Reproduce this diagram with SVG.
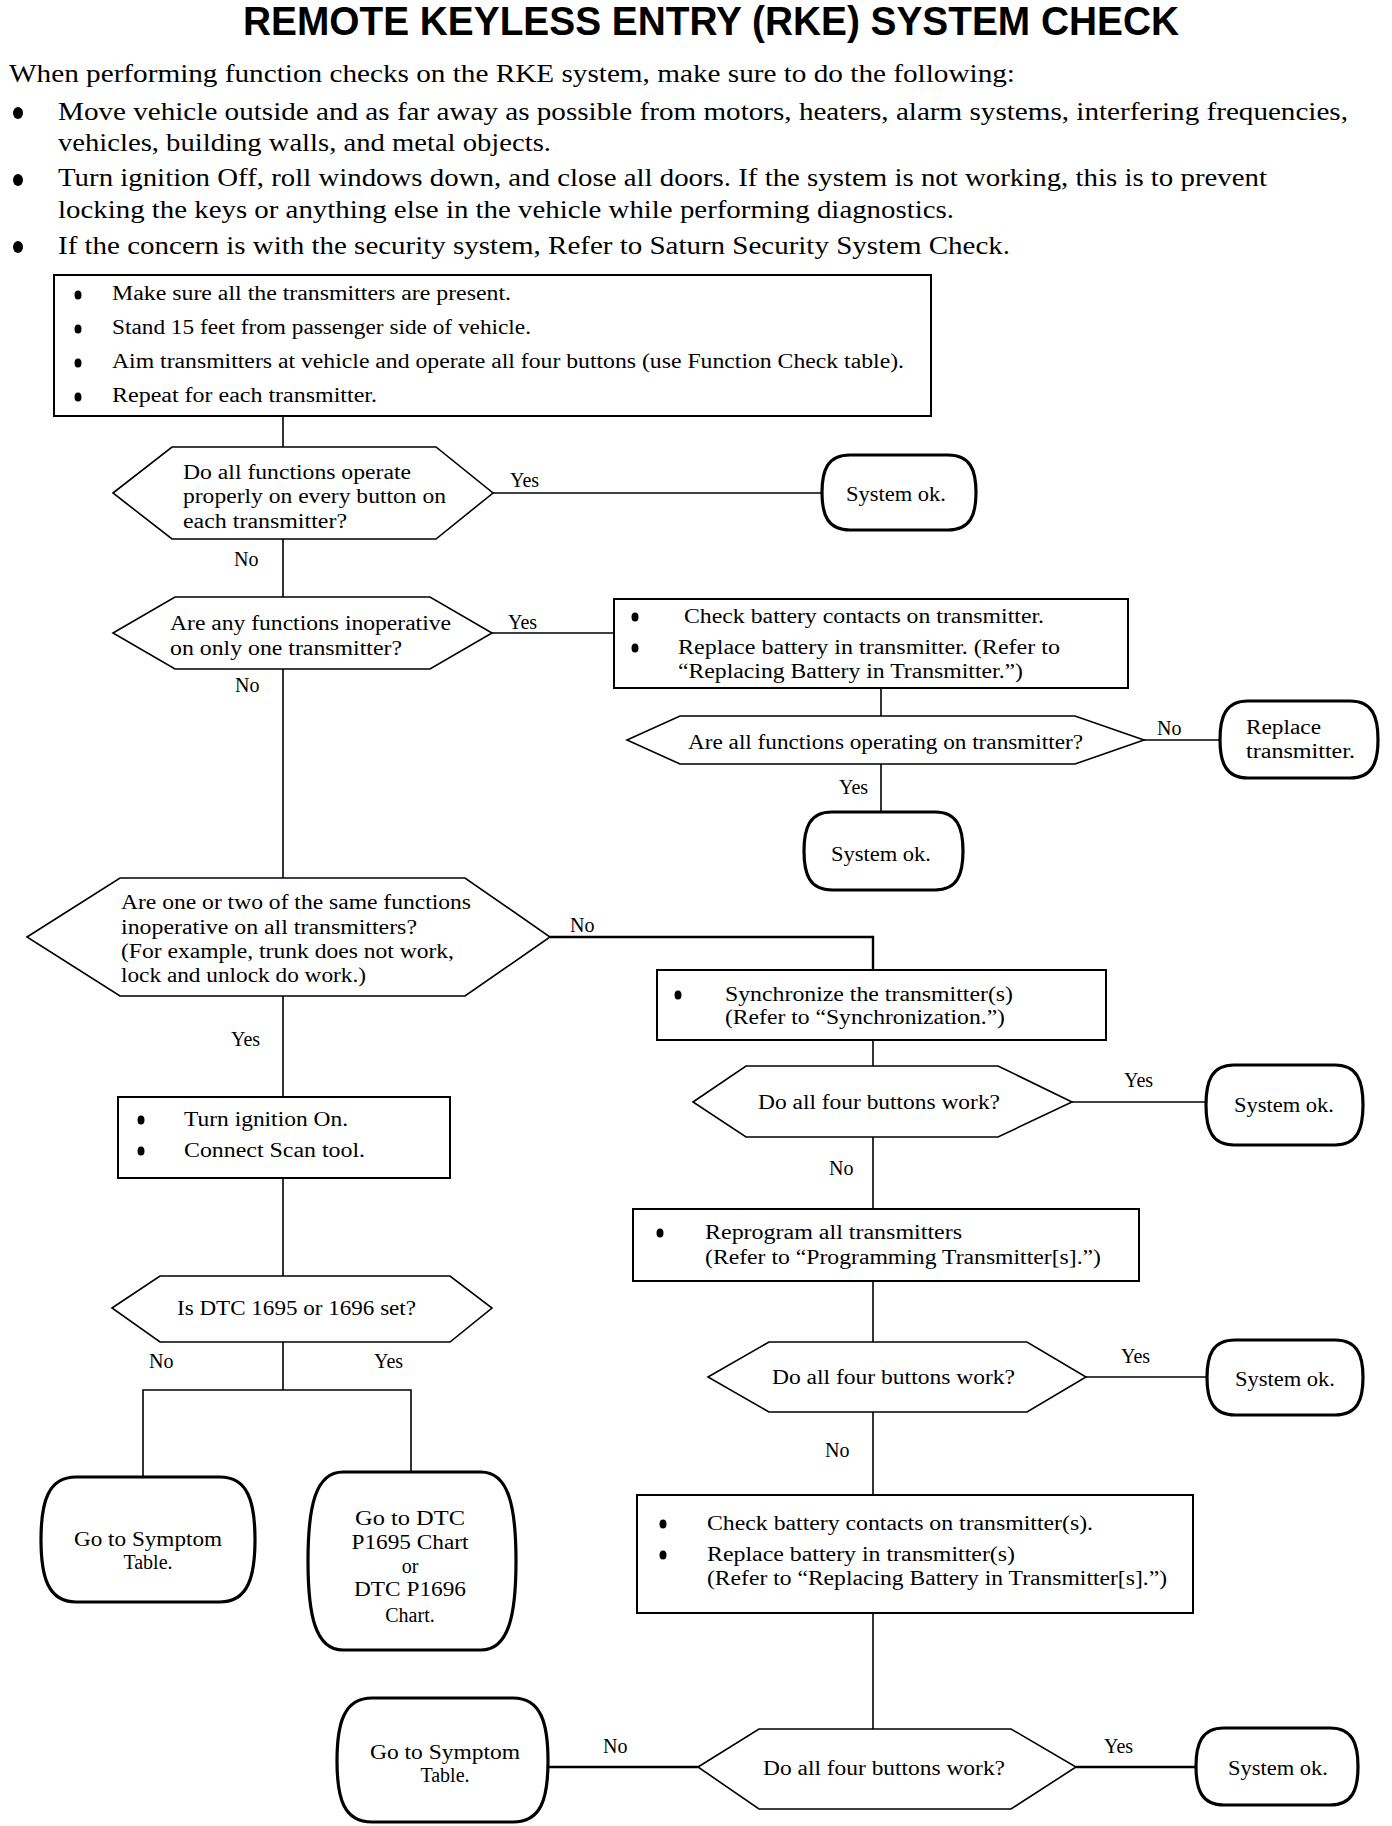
<svg xmlns="http://www.w3.org/2000/svg" width="1392" height="1826" viewBox="0 0 1392 1826">
<style>
text{font-family:"Liberation Serif","Times New Roman",serif;font-size:20px;fill:#000}
.title{font-family:"Liberation Sans",Arial,sans-serif;font-weight:bold;font-size:40px}
.intro{font-size:25px}
.box{fill:#fff;stroke:#000;stroke-width:2}
.dia{fill:#fff;stroke:#000;stroke-width:1.6}
.term{fill:#fff;stroke:#000;stroke-width:3.2}
.con{fill:none;stroke:#000;stroke-width:1.6}
.bul{fill:#000}
.mid{text-anchor:middle}
</style>
<rect width="1392" height="1826" fill="#fff"/>
<g id="header">
<text class="title" x="243" y="35" textLength="936" lengthAdjust="spacingAndGlyphs">REMOTE KEYLESS ENTRY (RKE) SYSTEM CHECK</text>
<text class="intro" x="9" y="82" textLength="1006" lengthAdjust="spacingAndGlyphs">When performing function checks on the RKE system, make sure to do the following:</text>
<ellipse class="bul" cx="18" cy="113" rx="5" ry="6"/>
<text class="intro" x="58" y="120" textLength="1290" lengthAdjust="spacingAndGlyphs">Move vehicle outside and as far away as possible from motors, heaters, alarm systems, interfering frequencies,</text>
<text class="intro" x="58" y="151" textLength="493" lengthAdjust="spacingAndGlyphs">vehicles, building walls, and metal objects.</text>
<ellipse class="bul" cx="18" cy="180" rx="5" ry="6"/>
<text class="intro" x="58" y="186" textLength="1209" lengthAdjust="spacingAndGlyphs">Turn ignition Off, roll windows down, and close all doors. If the system is not working, this is to prevent</text>
<text class="intro" x="58" y="218" textLength="896" lengthAdjust="spacingAndGlyphs">locking the keys or anything else in the vehicle while performing diagnostics.</text>
<ellipse class="bul" cx="18" cy="247" rx="5" ry="6"/>
<text class="intro" x="58" y="254" textLength="952" lengthAdjust="spacingAndGlyphs">If the concern is with the security system, Refer to Saturn Security System Check.</text>
</g>
<g id="connectors">
<path class="con" d="M283,416 V447"/>
<path class="con" d="M493,493 H822"/>
<path class="con" d="M283,539 V597"/>
<path class="con" d="M492,633 H614" stroke-width="3"/>
<path class="con" d="M881,688 V716"/>
<path class="con" d="M1144,740 H1220"/>
<path class="con" d="M881,764 V812"/>
<path class="con" d="M283,669 V878"/>
<path class="con" d="M550,937 H873 V970" style="stroke-width:2.4"/>
<path class="con" d="M873,1040 V1066"/>
<path class="con" d="M1072,1102 H1206"/>
<path class="con" d="M873,1137 V1209"/>
<path class="con" d="M873,1281 V1342"/>
<path class="con" d="M1086,1377 H1207"/>
<path class="con" d="M873,1412 V1495"/>
<path class="con" d="M873,1613 V1729"/>
<path class="con" d="M1076,1767 H1196" style="stroke-width:2.4"/>
<path class="con" d="M698,1767 H548" style="stroke-width:2.4"/>
<path class="con" d="M283,996 V1097"/>
<path class="con" d="M283,1178 V1276"/>
<path class="con" d="M283,1342 V1390 M143,1477 V1390 H411 V1472"/>
</g>
<g id="labels">
<text x="510" y="487">Yes</text>
<text x="234" y="566">No</text>
<text x="508" y="629">Yes</text>
<text x="235" y="692">No</text>
<text x="1157" y="735">No</text>
<text x="839" y="794">Yes</text>
<text x="570" y="932">No</text>
<text x="1124" y="1087">Yes</text>
<text x="829" y="1175">No</text>
<text x="1121" y="1363">Yes</text>
<text x="825" y="1457">No</text>
<text x="1104" y="1753">Yes</text>
<text x="603" y="1753">No</text>
<text x="231" y="1046">Yes</text>
<text x="149" y="1368">No</text>
<text x="374" y="1368">Yes</text>
</g>
<g id="box1">
<rect class="box" x="54" y="275" width="877" height="141"/>
<ellipse class="bul" cx="78" cy="295" rx="3.5" ry="4.5"/>
<text x="112" y="300" textLength="399" lengthAdjust="spacingAndGlyphs">Make sure all the transmitters are present.</text>
<ellipse class="bul" cx="78" cy="329" rx="3.5" ry="4.5"/>
<text x="112" y="334" textLength="419" lengthAdjust="spacingAndGlyphs">Stand 15 feet from passenger side of vehicle.</text>
<ellipse class="bul" cx="78" cy="363" rx="3.5" ry="4.5"/>
<text x="112" y="368" textLength="792" lengthAdjust="spacingAndGlyphs">Aim transmitters at vehicle and operate all four buttons (use Function Check table).</text>
<ellipse class="bul" cx="78" cy="397" rx="3.5" ry="4.5"/>
<text x="112" y="402" textLength="265" lengthAdjust="spacingAndGlyphs">Repeat for each transmitter.</text>
</g>
<g id="d1">
<polygon class="dia" points="113,493 172,447 436,447 493,493 436,539 172,539"/>
<text x="183" y="479" textLength="228" lengthAdjust="spacingAndGlyphs">Do all functions operate</text>
<text x="183" y="503" textLength="263" lengthAdjust="spacingAndGlyphs">properly on every button on</text>
<text x="183" y="528" textLength="164" lengthAdjust="spacingAndGlyphs">each transmitter?</text>
</g>
<g id="t1">
<path class="term" d="M850,455 H948 C970.4,455 976,470 976,492.5 C976,515 970.4,530 948,530 H850 C827.6,530 822,515 822,492.5 C822,470 827.6,455 850,455 Z"/>
<text class="mid" x="896" y="501" textLength="100" lengthAdjust="spacingAndGlyphs">System ok.</text>
</g>
<g id="d2">
<polygon class="dia" points="113,633 175,597 430,597 492,633 430,669 175,669"/>
<text x="170" y="630" textLength="281" lengthAdjust="spacingAndGlyphs">Are any functions inoperative</text>
<text x="170" y="655" textLength="232" lengthAdjust="spacingAndGlyphs">on only one transmitter?</text>
</g>
<g id="box2">
<rect class="box" x="614" y="599" width="514" height="89"/>
<ellipse class="bul" cx="635" cy="617" rx="3.5" ry="4.5"/>
<text x="684" y="623" textLength="360" lengthAdjust="spacingAndGlyphs">Check battery contacts on transmitter.</text>
<ellipse class="bul" cx="635" cy="648" rx="3.5" ry="4.5"/>
<text x="678" y="654" textLength="382" lengthAdjust="spacingAndGlyphs">Replace battery in transmitter. (Refer to</text>
<text x="678" y="678" textLength="345" lengthAdjust="spacingAndGlyphs">“Replacing Battery in Transmitter.”)</text>
</g>
<g id="d3">
<polygon class="dia" points="627,740 680,716 1075,716 1144,740 1075,764 680,764"/>
<text x="688" y="749" textLength="395" lengthAdjust="spacingAndGlyphs">Are all functions operating on transmitter?</text>
</g>
<g id="t2">
<path class="term" d="M1248,701 H1350 C1372.4,701 1378,716.4 1378,739.5 C1378,762.6 1372.4,778 1350,778 H1248 C1225.6,778 1220,762.6 1220,739.5 C1220,716.4 1225.6,701 1248,701 Z"/>
<text x="1246" y="734" textLength="75" lengthAdjust="spacingAndGlyphs">Replace</text>
<text x="1246" y="758" textLength="109" lengthAdjust="spacingAndGlyphs">transmitter.</text>
</g>
<g id="t3">
<path class="term" d="M832,812 H935 C957.4,812 963,827.6 963,851 C963,874.4 957.4,890 935,890 H832 C809.6,890 804,874.4 804,851 C804,827.6 809.6,812 832,812 Z"/>
<text class="mid" x="881" y="861" textLength="100" lengthAdjust="spacingAndGlyphs">System ok.</text>
</g>
<g id="d4">
<polygon class="dia" points="27,937 120,878 465,878 550,937 465,996 120,996"/>
<text x="121" y="909" textLength="350" lengthAdjust="spacingAndGlyphs">Are one or two of the same functions</text>
<text x="121" y="934" textLength="296" lengthAdjust="spacingAndGlyphs">inoperative on all transmitters?</text>
<text x="121" y="958" textLength="333" lengthAdjust="spacingAndGlyphs">(For example, trunk does not work,</text>
<text x="121" y="982" textLength="245" lengthAdjust="spacingAndGlyphs">lock and unlock do work.)</text>
</g>
<g id="box3">
<rect class="box" x="657" y="970" width="449" height="70"/>
<ellipse class="bul" cx="678" cy="995" rx="3.5" ry="4.5"/>
<text x="725" y="1001" textLength="288" lengthAdjust="spacingAndGlyphs">Synchronize the transmitter(s)</text>
<text x="725" y="1024" textLength="280" lengthAdjust="spacingAndGlyphs">(Refer to “Synchronization.”)</text>
</g>
<g id="d5">
<polygon class="dia" points="693,1102 746,1066 998,1066 1072,1102 998,1137 746,1137"/>
<text x="758" y="1109" textLength="242" lengthAdjust="spacingAndGlyphs">Do all four buttons work?</text>
</g>
<g id="t4">
<path class="term" d="M1234,1065 H1335 C1357.4,1065 1363,1081 1363,1105 C1363,1129 1357.4,1145 1335,1145 H1234 C1211.6,1145 1206,1129 1206,1105 C1206,1081 1211.6,1065 1234,1065 Z"/>
<text class="mid" x="1284" y="1112" textLength="100" lengthAdjust="spacingAndGlyphs">System ok.</text>
</g>
<g id="box4">
<rect class="box" x="633" y="1209" width="506" height="72"/>
<ellipse class="bul" cx="660" cy="1233" rx="3.5" ry="4.5"/>
<text x="705" y="1239" textLength="257" lengthAdjust="spacingAndGlyphs">Reprogram all transmitters</text>
<text x="705" y="1264" textLength="396" lengthAdjust="spacingAndGlyphs">(Refer to “Programming Transmitter[s].”)</text>
</g>
<g id="d6">
<polygon class="dia" points="708,1377 769,1342 1027,1342 1086,1377 1027,1412 769,1412"/>
<text x="772" y="1384" textLength="243" lengthAdjust="spacingAndGlyphs">Do all four buttons work?</text>
</g>
<g id="t5">
<path class="term" d="M1235,1340 H1335 C1357.4,1340 1363,1355 1363,1377.5 C1363,1400 1357.4,1415 1335,1415 H1235 C1212.6,1415 1207,1400 1207,1377.5 C1207,1355 1212.6,1340 1235,1340 Z"/>
<text class="mid" x="1285" y="1386" textLength="100" lengthAdjust="spacingAndGlyphs">System ok.</text>
</g>
<g id="box5">
<rect class="box" x="637" y="1495" width="556" height="118"/>
<ellipse class="bul" cx="663" cy="1524" rx="3.5" ry="4.5"/>
<text x="707" y="1530" textLength="386" lengthAdjust="spacingAndGlyphs">Check battery contacts on transmitter(s).</text>
<ellipse class="bul" cx="663" cy="1555" rx="3.5" ry="4.5"/>
<text x="707" y="1561" textLength="308" lengthAdjust="spacingAndGlyphs">Replace battery in transmitter(s)</text>
<text x="707" y="1585" textLength="460" lengthAdjust="spacingAndGlyphs">(Refer to “Replacing Battery in Transmitter[s].”)</text>
</g>
<g id="d7">
<polygon class="dia" points="698,1767 759,1729 1011,1729 1076,1767 1011,1809 759,1809"/>
<text x="763" y="1775" textLength="242" lengthAdjust="spacingAndGlyphs">Do all four buttons work?</text>
</g>
<g id="t6">
<path class="term" d="M1224,1728 H1330 C1352.4,1728 1358,1743.4 1358,1766.5 C1358,1789.6 1352.4,1805 1330,1805 H1224 C1201.6,1805 1196,1789.6 1196,1766.5 C1196,1743.4 1201.6,1728 1224,1728 Z"/>
<text class="mid" x="1278" y="1775" textLength="100" lengthAdjust="spacingAndGlyphs">System ok.</text>
</g>
<g id="t7">
<path class="term" d="M372,1698 H513 C541,1698 548,1723 548,1761 C548,1799 541,1822 513,1822 H372 C344,1822 337,1799 337,1761 C337,1723 344,1698 372,1698 Z"/>
<text class="mid" x="445" y="1759" textLength="150" lengthAdjust="spacingAndGlyphs">Go to Symptom</text>
<text class="mid" x="445" y="1782">Table.</text>
</g>
<g id="box6">
<rect class="box" x="118" y="1097" width="332" height="81"/>
<ellipse class="bul" cx="141" cy="1120" rx="3.5" ry="4.5"/>
<text x="184" y="1126" textLength="164" lengthAdjust="spacingAndGlyphs">Turn ignition On.</text>
<ellipse class="bul" cx="141" cy="1151" rx="3.5" ry="4.5"/>
<text x="184" y="1157" textLength="181" lengthAdjust="spacingAndGlyphs">Connect Scan tool.</text>
</g>
<g id="d8">
<polygon class="dia" points="112,1308 160,1276 450,1276 492,1308 450,1342 160,1342"/>
<text x="177" y="1315" textLength="239" lengthAdjust="spacingAndGlyphs">Is DTC 1695 or 1696 set?</text>
</g>
<g id="t8">
<path class="term" d="M76,1477 H220 C248,1477 255,1502 255,1539.5 C255,1577 248,1602 220,1602 H76 C48,1602 41,1577 41,1539.5 C41,1502 48,1477 76,1477 Z"/>
<text class="mid" x="148" y="1546" textLength="148" lengthAdjust="spacingAndGlyphs">Go to Symptom</text>
<text class="mid" x="148" y="1569">Table.</text>
</g>
<g id="t9">
<path class="term" d="M343,1472 H481 C509,1472 516,1507.6 516,1561 C516,1614.4 509,1650 481,1650 H343 C315,1650 308,1614.4 308,1561 C308,1507.6 315,1472 343,1472 Z"/>
<text class="mid" x="410" y="1525" textLength="110" lengthAdjust="spacingAndGlyphs">Go to DTC</text>
<text class="mid" x="410" y="1549" textLength="117" lengthAdjust="spacingAndGlyphs">P1695 Chart</text>
<text class="mid" x="410" y="1573">or</text>
<text class="mid" x="410" y="1596" textLength="112" lengthAdjust="spacingAndGlyphs">DTC P1696</text>
<text class="mid" x="410" y="1622">Chart.</text>
</g>
</svg>
